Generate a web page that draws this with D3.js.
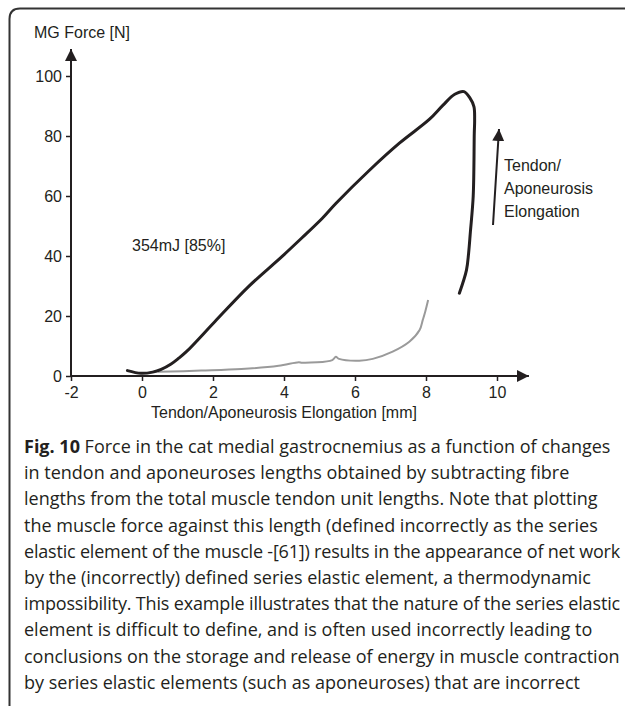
<!DOCTYPE html>
<html>
<head>
<meta charset="utf-8">
<script src="https://cdn.jsdelivr.net/npm/d3@7"></script>
<style>
  body { margin: 0; background: #fff; }
  svg { display: block; }
</style>
</head>
<body>
<svg width="625" height="706"></svg>
<script>

// axis ticks
const xTicks = [-2, 0, 2, 4, 6, 8, 10];
const yTicks = [0, 20, 40, 60, 80, 100];

// black loop: force vs tendon/aponeurosis elongation
const loopX = [-0.41, -0.03, 0.3, 0.54, 0.82, 1.01, 1.25, 2.05, 3.0, 3.94, 4.5, 5.08, 5.46, 6.4, 7.25, 8.1, 8.48, 8.81, 9.07, 9.24, 9.35, 9.37, 9.36, 9.33, 9.25, 9.2, 9.14, 8.94];
const loopF = [1.8, 0.9, 1.3, 2.2, 4.0, 5.7, 8.1, 18.1, 29.8, 39.8, 46.0, 52.6, 57.5, 68.5, 77.6, 85.6, 90.3, 93.9, 94.8, 92.6, 89.8, 85.3, 80.9, 60.0, 48.0, 40.9, 35.3, 27.6];

// grey curve
const greyX = [0.45, 1.67, 2.8, 3.85, 4.42, 4.51, 5.36, 5.46, 5.55, 6.12, 6.5, 7.06, 7.53, 7.82, 7.91, 7.98, 8.06];
const greyF = [1.4, 1.8, 2.3, 3.4, 4.6, 4.4, 5.3, 6.4, 5.7, 5.1, 5.7, 8.1, 11.4, 15.3, 18.7, 21.5, 25.3];

const captionLines = [
    ' Force in the cat medial gastrocnemius as a function of changes',
    'in tendon and aponeuroses lengths obtained by subtracting fibre',
    'lengths from the total muscle tendon unit lengths. Note that plotting',
    'the muscle force against this length (defined incorrectly as the series',
    'elastic element of the muscle -[61]) results in the appearance of net work',
    'by the (incorrectly) defined series elastic element, a thermodynamic',
    'impossibility. This example illustrates that the nature of the series elastic',
    'element is difficult to define, and is often used incorrectly leading to',
    'conclusions on the storage and release of energy in muscle contraction',
    'by series elastic elements (such as aponeuroses) that are incorrect'
];

const svg = d3.select('svg');
const ink = '#231f20';

// frame (open to the right and bottom)
svg.append('path')
    .attr('d', 'M9.5,706 L9.5,19 Q9.5,8.5 20,8.5 L625,8.5')
    .attr('fill', 'none')
    .attr('stroke', '#333')
    .attr('stroke-width', 2);

const x = d3.scaleLinear().domain([-2, 10]).range([71, 497]);
const y = d3.scaleLinear().domain([0, 100]).range([376, 76]);

svg.append('defs').append('marker')
    .attr('id', 'arr')
    .attr('viewBox', '0 0 10 10')
    .attr('refX', 10).attr('refY', 5)
    .attr('markerWidth', 6).attr('markerHeight', 6)
    .attr('markerUnits', 'strokeWidth')
    .attr('orient', 'auto')
  .append('path')
    .attr('d', 'M0,0 L10,5 L0,10 Z')
    .attr('fill', ink);

// axes
const gx = svg.append('g')
    .attr('transform', `translate(0,${y(0)})`)
    .call(d3.axisBottom(x).tickValues(xTicks).tickSize(5).tickPadding(6).tickFormat(d => String(d)));
const gy = svg.append('g')
    .attr('transform', `translate(${x(-2)},0)`)
    .call(d3.axisLeft(y).tickValues(yTicks).tickSize(5).tickPadding(4));

[gx, gy].forEach(g => {
    g.select('.domain').remove();
    g.selectAll('.tick line').attr('stroke', ink).attr('stroke-width', 1.5);
    g.selectAll('.tick text')
        .attr('fill', ink)
        .style('font-family', 'Liberation Sans, Arial, sans-serif')
        .style('font-size', '16px');
});

svg.append('line')
    .attr('x1', x(-2)).attr('y1', y(0))
    .attr('x2', x(10.9)).attr('y2', y(0))
    .attr('stroke', ink).attr('stroke-width', 2)
    .attr('marker-end', 'url(#arr)');
svg.append('line')
    .attr('x1', x(-2)).attr('y1', y(0))
    .attr('x2', x(-2)).attr('y2', y(109))
    .attr('stroke', ink).attr('stroke-width', 2)
    .attr('marker-end', 'url(#arr)');

const label = {
    'font-family': 'Liberation Sans, Arial, sans-serif',
    'font-size': '16px',
    'fill': ink
};
function txt(s, px, py, anchor) {
    const t = svg.append('text').attr('x', px).attr('y', py).text(s)
        .attr('text-anchor', anchor || 'start');
    Object.entries(label).forEach(([k, v]) => t.style(k, v));
    return t;
}

txt('MG Force [N]', 34, 38);
txt('Tendon/Aponeurosis Elongation [mm]', x(4), 418, 'middle');
txt('354mJ [85%]', 132, 251);
txt('Tendon/', 504, 171);
txt('Aponeurosis', 504, 194);
txt('Elongation', 504, 217);

// annotation arrow
svg.append('line')
    .attr('x1', 493).attr('y1', 225)
    .attr('x2', 499).attr('y2', 129)
    .attr('stroke', ink).attr('stroke-width', 2)
    .attr('marker-end', 'url(#arr)');

// curves
const line = d3.line()
    .x(d => x(d[0]))
    .y(d => y(d[1]))
    .curve(d3.curveCatmullRom.alpha(0.5));

svg.append('path')
    .datum(d3.zip(greyX, greyF))
    .attr('d', line)
    .attr('fill', 'none')
    .attr('stroke', '#9a9a9a')
    .attr('stroke-width', 2);

svg.append('path')
    .datum(d3.zip(loopX, loopF))
    .attr('d', line)
    .attr('fill', 'none')
    .attr('stroke', ink)
    .attr('stroke-width', 3)
    .attr('stroke-linejoin', 'round')
    .attr('stroke-linecap', 'round');

// caption
const cap = svg.append('g')
    .style('font-family', 'Open Sans, sans-serif')
    .style('font-size', '18px')
    .attr('fill', '#231f20');

const maxW = 596;
captionLines.forEach((s, i) => {
    const t = cap.append('text')
        .attr('x', 24)
        .attr('y', 453 + i * 26.2);
    if (i === 0) {
        t.append('tspan').style('font-weight', 'bold').text('Fig. 10');
    }
    t.append('tspan').text(s);
    // tighten letter spacing on lines that would run past the edge
    const w = t.node().getComputedTextLength();
    if (w > maxW) {
        const n = t.text().length;
        t.style('letter-spacing', (-(w - maxW) / n).toFixed(3) + 'px');
    }
});

</script>
</body>
</html>
